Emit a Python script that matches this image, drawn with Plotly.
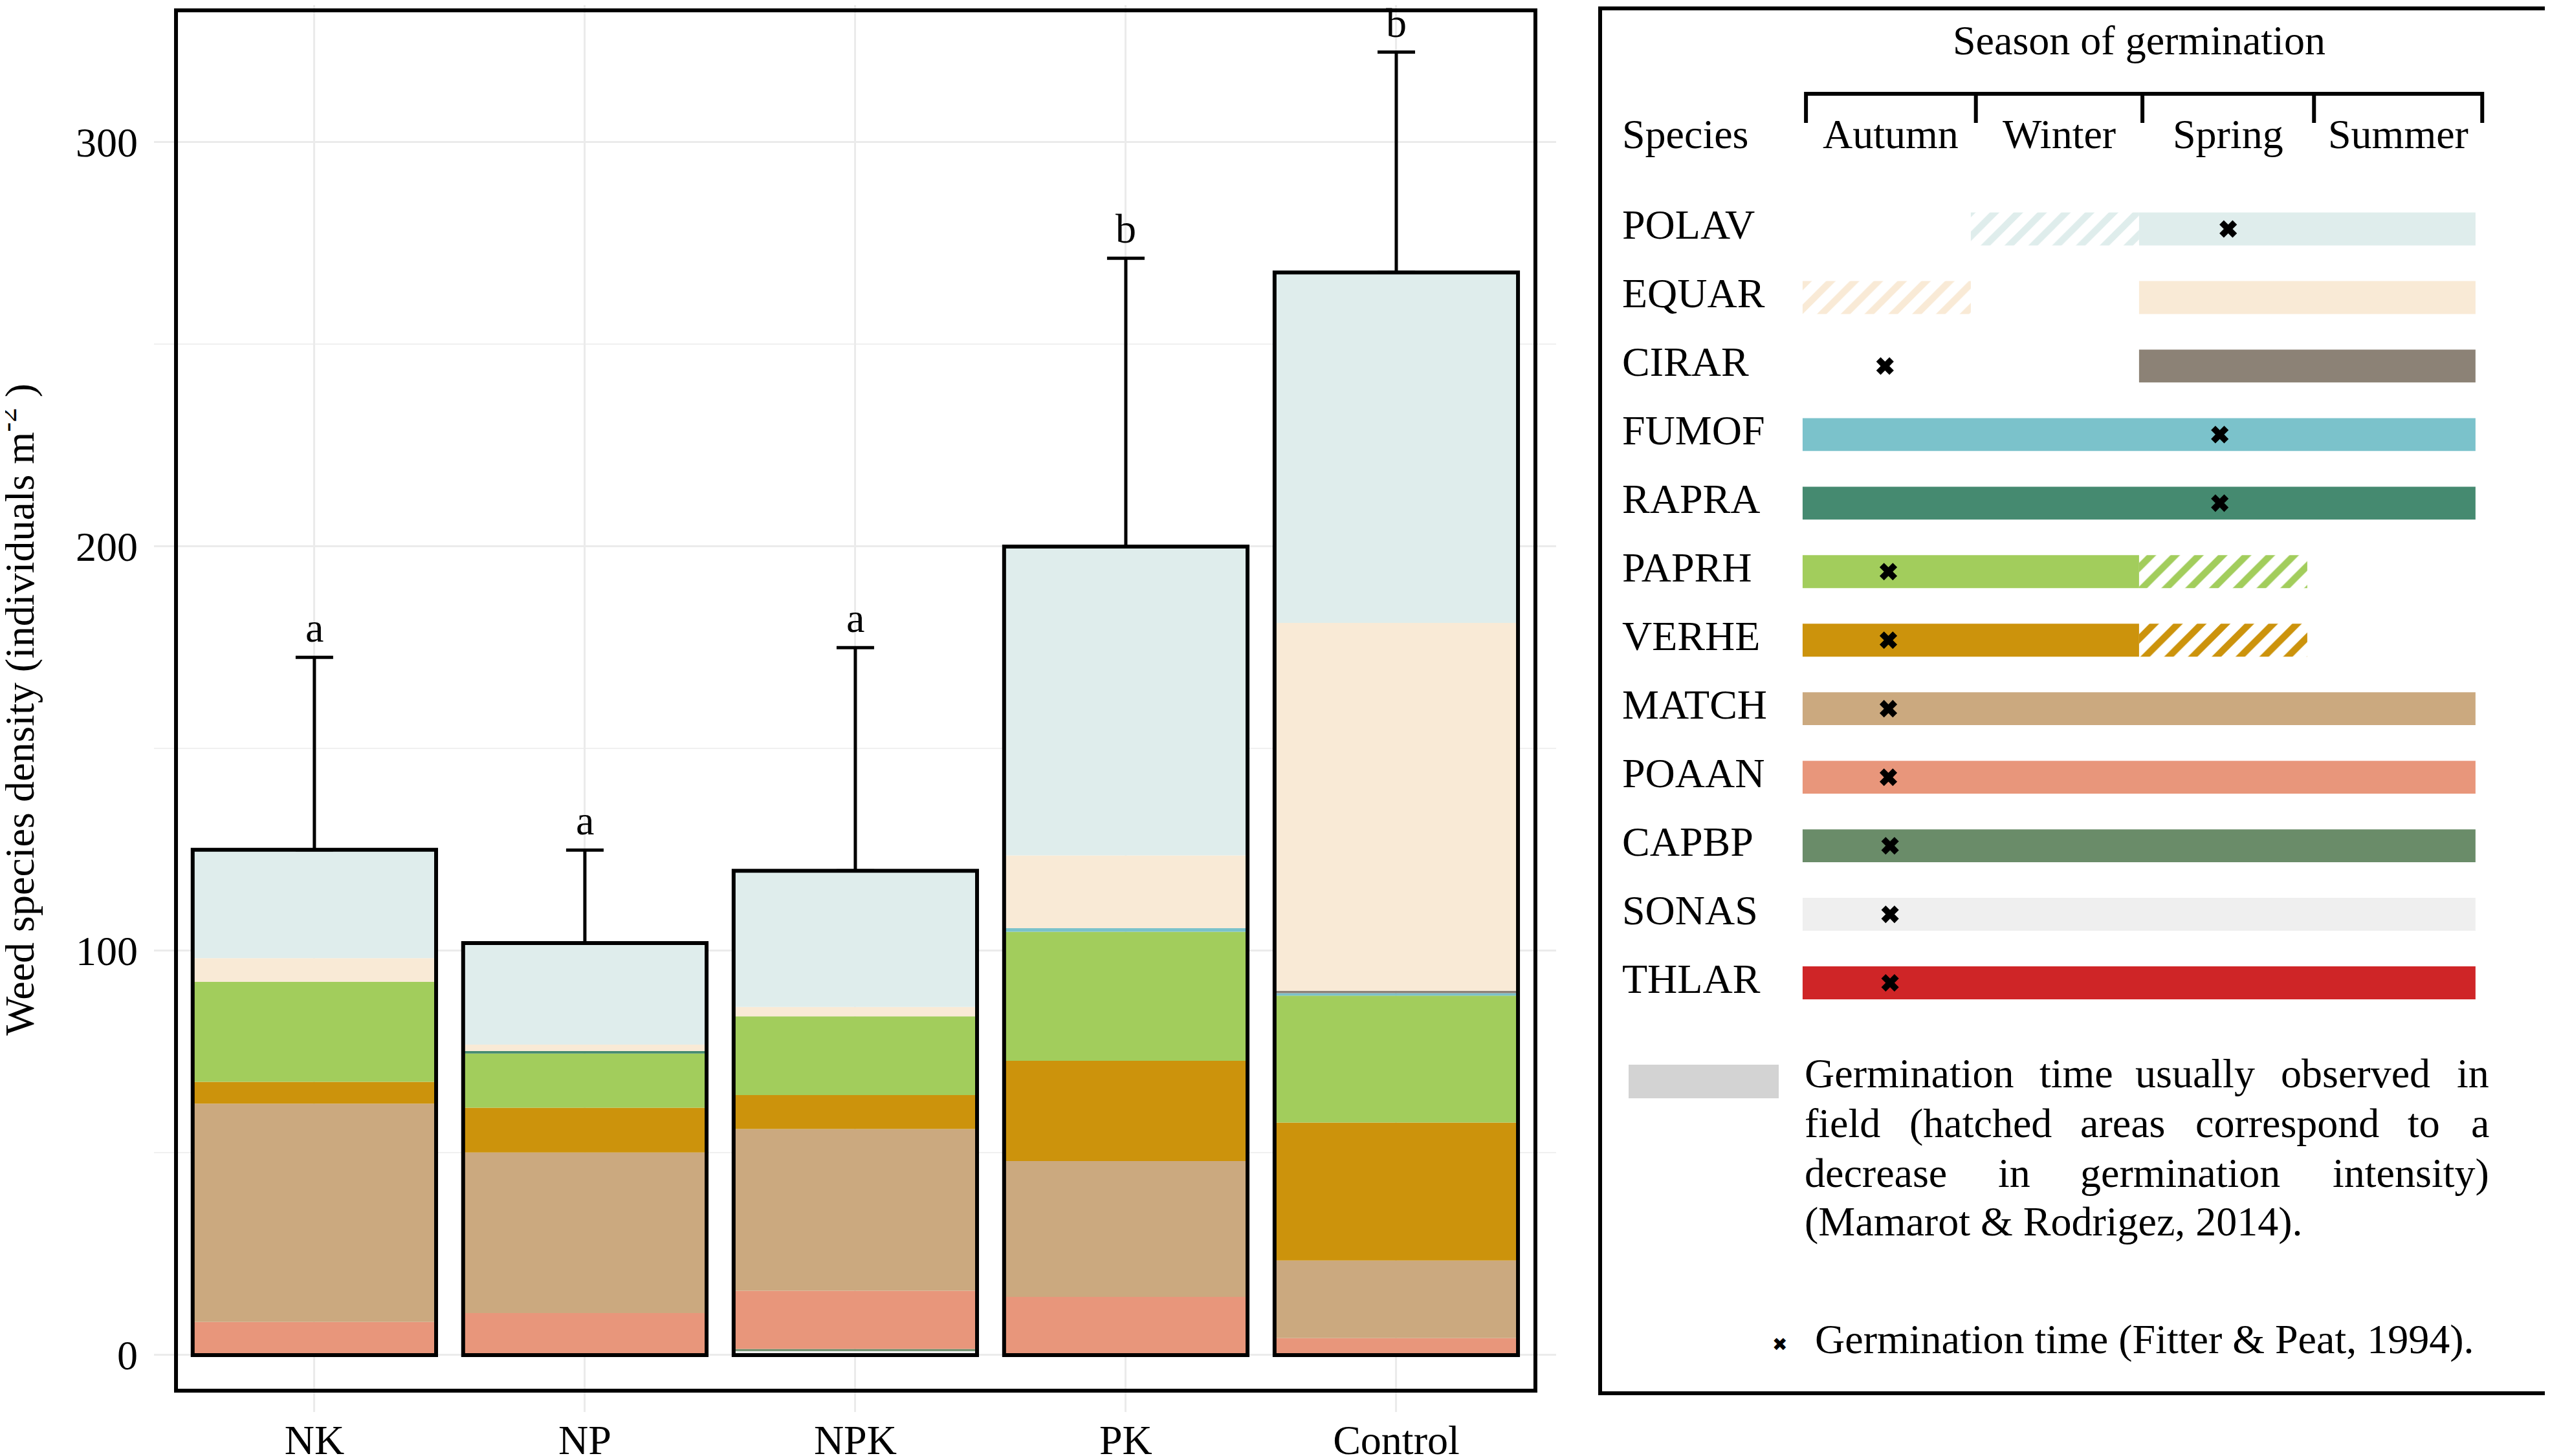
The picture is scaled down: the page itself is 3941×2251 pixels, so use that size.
import plotly.graph_objects as go

W, H = 3941, 2251

treatments = ["NK", "NP", "NPK", "PK", "Control"]
species = ["POLAV", "EQUAR", "CIRAR", "FUMOF", "RAPRA", "PAPRH",
           "VERHE", "MATCH", "POAAN", "CAPBP", "SONAS", "THLAR"]

species_colors = {
    "POLAV": "#DFEDEC", "EQUAR": "#F9EAD6", "CIRAR": "#8C8276",
    "FUMOF": "#7BC2CB", "RAPRA": "#458A70", "PAPRH": "#A2CD5C",
    "VERHE": "#CC930C", "MATCH": "#CBA97F", "POAAN": "#E8967B",
    "CAPBP": "#6A8C69", "SONAS": "#EFEFEF", "THLAR": "#CF2527",
}

# weed density (individuals m-2) per treatment: NK, NP, NPK, PK, Control
THLAR = [0, 0, 0.4, 0, 0]
SONAS = [0, 0, 0.6, 0, 0]
CAPBP = [0, 0, 0.5, 0, 0]
POAAN = [8.2, 10.4, 14.4, 14.4, 4.2]
MATCH = [54.0, 39.7, 40.0, 33.6, 19.2]
VERHE = [5.4, 11.1, 8.4, 24.8, 34.1]
PAPRH = [24.7, 13.4, 19.5, 31.9, 31.4]
RAPRA = [0, 0.6, 0, 0, 0]
FUMOF = [0, 0, 0, 0.9, 0.6]
CIRAR = [0, 0, 0, 0, 0.6]
EQUAR = [5.9, 1.6, 2.3, 18.0, 91.0]
POLAV = [26.8, 25.1, 33.7, 76.4, 86.7]

density = {"THLAR": THLAR, "SONAS": SONAS, "CAPBP": CAPBP, "POAAN": POAAN,
           "MATCH": MATCH, "VERHE": VERHE, "PAPRH": PAPRH, "RAPRA": RAPRA,
           "FUMOF": FUMOF, "CIRAR": CIRAR, "EQUAR": EQUAR, "POLAV": POLAV}

err_top = [172.6, 124.9, 175.0, 271.3, 322.3]
letters = ["a", "a", "a", "b", "b"]

# germination seasons (0 = start of autumn ... 4 = end of summer)
seasons = ["Autumn", "Winter", "Spring", "Summer"]
solid_start = [2, 2, 2, 0, 0, 0, 0, 0, 0, 0, 0, 0]
solid_end = [4, 4, 4, 4, 4, 2, 2, 4, 4, 4, 4, 4]
hatch_start = [1, 0, None, None, None, 2, 2, None, None, None, None, None]
hatch_end = [2, 1, None, None, None, 3, 3, None, None, None, None, None]
fitter_peat = [2.53, None, 0.49, 2.48, 2.48, 0.51, 0.51, 0.51, 0.51, 0.52, 0.52, 0.52]

FONT = "Liberation Serif"
TXT = dict(size=64, family=FONT, color="black")


def px(x):
    return x / W


def py(y):
    return 1 - y / H


fig = go.Figure()

# ---- left panel: stacked bars
base = [0.0] * len(treatments)
for sp in species[::-1]:
    vals = density[sp]
    fig.add_trace(go.Bar(
        x=treatments, y=vals, base=base, width=0.9,
        marker=dict(color=species_colors[sp], line=dict(width=0)),
        name=sp, xaxis="x", yaxis="y",
    ))
    base = [b + v for b, v in zip(base, vals)]

totals = base
fig.add_trace(go.Bar(
    x=treatments, y=totals, width=0.9,
    marker=dict(color="rgba(0,0,0,0)", line=dict(color="black", width=6)),
    error_y=dict(type="data", symmetric=False,
                 array=[e - t for e, t in zip(err_top, totals)],
                 arrayminus=[0] * len(totals),
                 color="black", thickness=5, width=29),
    xaxis="x", yaxis="y",
))

annotations = []
shapes = []

for t, e, l in zip(treatments, err_top, letters):
    annotations.append(dict(text=l, xref="x", yref="y", x=t, y=e,
                            xanchor="center", yanchor="bottom", yshift=8,
                            showarrow=False, font=TXT))

# ---- right panel: germination calendar
fig.add_trace(go.Bar(
    y=species, x=[e - s for s, e in zip(solid_start, solid_end)], base=solid_start,
    orientation="h", width=0.48,
    marker=dict(color=[species_colors[s] for s in species], line=dict(width=0)),
    xaxis="x2", yaxis="y2",
))

h_sp = [s for s, a in zip(species, hatch_start) if a is not None]
h_s = [a for a in hatch_start if a is not None]
h_e = [b for b in hatch_end if b is not None]
fig.add_trace(go.Bar(
    y=h_sp, x=[e - s for s, e in zip(h_s, h_e)], base=h_s,
    orientation="h", width=0.48,
    marker=dict(color=[species_colors[s] for s in h_sp], line=dict(width=0),
                pattern=dict(shape="/", size=26, solidity=0.4, fillmode="replace")),
    xaxis="x2", yaxis="y2",
))

fig.add_trace(go.Scatter(
    y=species, x=fitter_peat, mode="markers",
    marker=dict(symbol="x", size=24, color="black", line=dict(width=0)),
    xaxis="x2", yaxis="y2",
))

# y axis title
annotations.append(dict(
    text="Weed species density (individuals m<sup>-2</sup> )",
    xref="paper", yref="paper", x=px(18), y=py(1089), textangle=-90,
    showarrow=False, xanchor="center", yanchor="middle", font=TXT,
))

# frame around the bar panel
shapes.append(dict(type="rect", xref="x domain", yref="y domain",
                   x0=0.0157, x1=0.9852, y0=0.0152, y1=0.9963,
                   line=dict(color="black", width=6), fillcolor="rgba(0,0,0,0)"))

# season header
annotations.append(dict(text="Season of germination", xref="x2", yref="paper",
                        x=2.0, y=py(55), xanchor="center", yanchor="middle",
                        showarrow=False, font=TXT))
bracket_x = [0.02, 1.03, 2.02, 3.04, 4.04]
shapes.append(dict(type="line", xref="x2", yref="paper", x0=bracket_x[0], x1=bracket_x[-1],
                   y0=py(137), y1=py(137), line=dict(color="black", width=6)))
for bx in bracket_x:
    shapes.append(dict(type="line", xref="x2", yref="paper", x0=bx, x1=bx,
                       y0=py(134), y1=py(182), line=dict(color="black", width=6)))
for i, s in enumerate(seasons):
    annotations.append(dict(text=s, xref="x2", yref="paper",
                            x=(bracket_x[i] + bracket_x[i + 1]) / 2, y=py(199),
                            xanchor="center", yanchor="middle",
                            showarrow=False, font=TXT))
annotations.append(dict(text="Species", xref="paper", yref="paper", x=px(2497), y=py(199),
                        xanchor="left", yanchor="middle", showarrow=False, font=TXT))

for s in species:
    annotations.append(dict(text=s, xref="paper", yref="y2", x=px(2497), y=s,
                            xanchor="left", yanchor="middle", yshift=6, showarrow=False,
                            font=TXT))

# legend key
shapes.append(dict(type="rect", xref="paper", yref="paper",
                   x0=px(2509), x1=px(2741), y0=py(1690), y1=py(1638),
                   fillcolor="#D3D3D3", line=dict(width=0)))

just_lines = [
    (["Germination", "time", "usually", "observed", "in"], [2779, 3142, 3290, 3515, 3841], 1651),
    (["field", "(hatched", "areas", "correspond", "to", "a"], [2779, 2941, 3205, 3383, 3711, 3841], 1728),
    (["decrease", "in", "germination", "intensity)"], [2779, 3078, 3205, 3841], 1805),
]
for words, xs, yy in just_lines:
    for j, (wd, xx) in enumerate(zip(words, xs)):
        last = j == len(words) - 1
        annotations.append(dict(text=wd, xref="paper", yref="paper", x=px(xx), y=py(yy),
                                xanchor="right" if last else "left", yanchor="middle",
                                showarrow=False, font=TXT))
annotations.append(dict(text="(Mamarot &amp; Rodrigez, 2014).", xref="paper", yref="paper",
                        x=px(2779), y=py(1881), xanchor="left", yanchor="middle",
                        showarrow=False, font=TXT))

annotations.append(dict(text="✖", xref="paper", yref="paper", x=px(2742), y=py(2070),
                        xanchor="center", yanchor="middle", showarrow=False,
                        font=dict(size=28, family="DejaVu Sans", color="black")))
annotations.append(dict(text="Germination time (Fitter &amp; Peat, 1994).", xref="paper", yref="paper",
                        x=px(2795), y=py(2062), xanchor="left", yanchor="middle",
                        showarrow=False, font=TXT))

fig.update_layout(
    width=W, height=H,
    margin=dict(l=0, r=0, t=0, b=0),
    barmode="overlay",
    showlegend=False,
    plot_bgcolor="white", paper_bgcolor="white",
    font=dict(family=FONT, size=64, color="black"),
    xaxis=dict(
        domain=[px(230), px(2397)], range=[-0.593, 4.591],
        type="category", categoryorder="array", categoryarray=treatments,
        showgrid=True, gridcolor="#EBEBEB", gridwidth=3,
        ticks="", ticklabelstandoff=0, zeroline=False, showline=False,
        automargin=False, tickfont=TXT,
    ),
    yaxis=dict(
        domain=[py(2175), 1], range=[-14.08, 333.9],
        tickvals=[0, 100, 200, 300],
        showgrid=True, gridcolor="#EBEBEB", gridwidth=3,
        minor=dict(tickvals=[50, 150, 250], showgrid=True, gridcolor="#F0F0F0", gridwidth=1.8),
        ticks="", ticklabelstandoff=24, zeroline=False, showline=False,
        automargin=False, tickfont=TXT,
    ),
    xaxis2=dict(
        domain=[px(2468), px(3932)], range=[-1.192, 4.439], anchor="y2",
        showgrid=False, zeroline=False, showticklabels=False, ticks="",
        showline=True, mirror=True, linecolor="black", linewidth=6,
    ),
    yaxis2=dict(
        domain=[py(2143), py(8)], range=[16.96, -3.19], anchor="x2",
        type="category", categoryorder="array", categoryarray=species,
        showgrid=False, zeroline=False, showticklabels=False, ticks="",
        showline=True, mirror=True, linecolor="black", linewidth=6,
    ),
    annotations=annotations,
    shapes=shapes,
)

fig.write_html("out.html")
